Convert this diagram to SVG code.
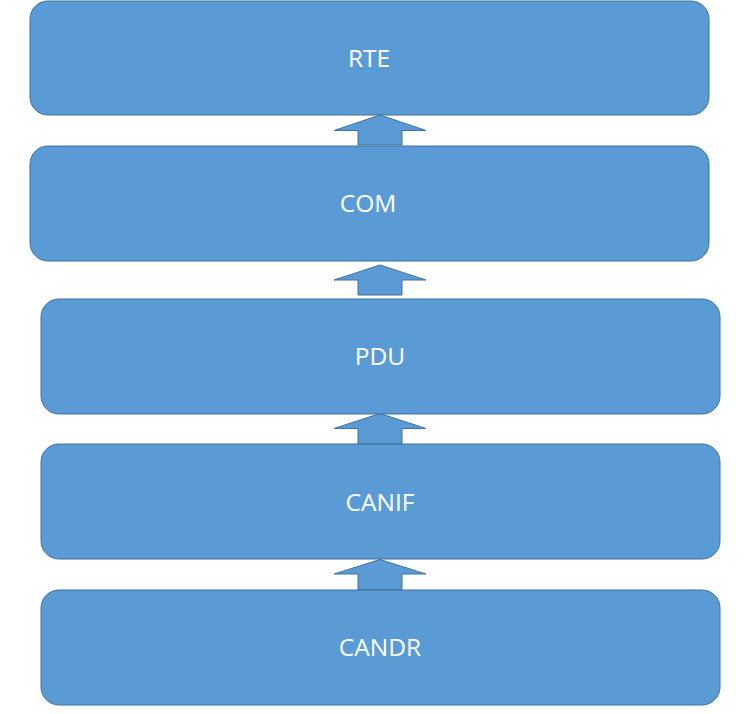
<svg xmlns="http://www.w3.org/2000/svg" width="746" height="714" viewBox="0 0 746 714">
<style>
.box{fill:#5B9BD5;stroke:#41719C;stroke-width:1}
.lbl{fill:#fff;font-family:"Open Sans","Noto Sans",sans-serif;font-size:24.5px;text-anchor:middle;dominant-baseline:central}
.arr{fill:#5B9BD5;stroke:#41719C;stroke-width:1}
</style>
<rect width="746" height="714" fill="#fff"/>
<g id="connectors">
<polygon class="arr" points="380,115 426,130.5 402,130.5 402,145 358,145 358,130.5 334,130.5"/>
<polygon class="arr" points="380,265 426,280 402,280 402,295 358,295 358,280 334,280"/>
<polygon class="arr" points="380,413.5 426,428.5 402,428.5 402,444 358,444 358,428.5 334,428.5"/>
<polygon class="arr" points="380,559.5 426,574 402,574 402,589.5 358,589.5 358,574 334,574"/>
</g>
<g id="rte"><rect class="box" x="30" y="1" width="679" height="114" rx="18"/><text class="lbl" x="369" y="57">RTE</text></g>
<g id="com"><rect class="box" x="30" y="146" width="679" height="115" rx="18"/><text class="lbl" x="368" y="202">COM</text></g>
<g id="pdu"><rect class="box" x="41" y="299" width="679" height="115" rx="18"/><text class="lbl" x="380" y="355">PDU</text></g>
<g id="canif"><rect class="box" x="41" y="444" width="679" height="115" rx="18"/><text class="lbl" x="380" y="501">CANIF</text></g>
<g id="candr"><rect class="box" x="41" y="590" width="679" height="115" rx="18"/><text class="lbl" x="380" y="646">CANDR</text></g>
</svg>
